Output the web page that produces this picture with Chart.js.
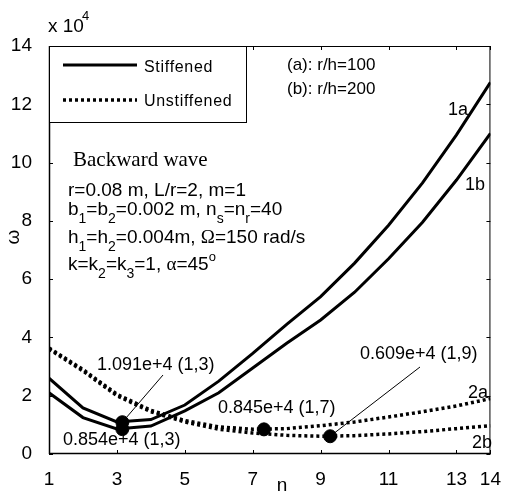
<!DOCTYPE html>
<html><head><meta charset="utf-8">
<script src="https://cdn.jsdelivr.net/npm/chart.js@4/dist/chart.umd.min.js"></script>
<style>html,body{margin:0;padding:0;background:#fff;} #wrap{width:507px;height:495px;position:relative;}</style>
</head><body><div id="wrap"><canvas id="c" width="507" height="495"></canvas></div>
<script>
const nValues = [1,2,3,4,5,6,7,8,9,10,11,12,13,14];
const stiff100 = [2.6,1.58,1.1,1.18,1.68,2.5,3.45,4.45,5.4,6.55,7.85,9.3,10.95,12.75];
const stiff200 = [2.1,1.25,0.86,0.96,1.48,2.1,2.95,3.8,4.6,5.55,6.7,7.95,9.4,11.0];
const unst100 = [3.64,2.9,2.05,1.5,1.15,0.93,0.85,0.87,0.97,1.1,1.27,1.45,1.65,1.9];
const unst200 = [3.6,2.85,2.0,1.45,1.1,0.85,0.72,0.64,0.61,0.63,0.69,0.77,0.87,0.97];
const minN = [3.16,3.16,7.33,9.28];
const minW = [1.091,0.854,0.845,0.609];
const minLabels = ['1.091e+4 (1,3)','0.854e+4 (1,3)','0.845e+4 (1,7)','0.609e+4 (1,9)'];
const curveLabels = ['1a','1b','2a','2b'];
const xTicks = [1,3,5,7,9,11,13,14];
const yTicks = [0,2,4,6,8,10,12,14];

const SANS = '"Liberation Sans", Arial, sans-serif';
const SERIF = '"Liberation Serif", "Times New Roman", serif';

function pts(ys){ return nValues.map((n,i)=>({x:n,y:ys[i]})); }

function richText(ctx, x, y, segs, size){
  let cx = x;
  for (const s of segs){
    let fs = size, dy = 0, fam = SANS;
    if (s.sub){ fs = 14; dy = 8; }
    if (s.sup){ fs = 13; dy = -9; }
    if (s.serif) fam = SERIF;
    ctx.font = fs + 'px ' + fam;
    ctx.fillText(s.t, cx, y + dy);
    cx += ctx.measureText(s.t).width;
  }
}

const decor = {
  id: 'decor',
  afterDraw(chart){
    const ctx = chart.ctx, a = chart.chartArea;
    const xs = chart.scales.x, ys = chart.scales.y;
    ctx.save();
    ctx.strokeStyle = '#000'; ctx.fillStyle = '#000';
    // box
    ctx.lineWidth = 1;
    ctx.strokeRect(a.left+0.5, a.top+0.5, a.right-a.left-1, a.bottom-a.top-1);
    ctx.lineWidth = 1.5;
    ctx.beginPath(); ctx.moveTo(a.left, a.bottom-0.5); ctx.lineTo(a.right, a.bottom-0.5); ctx.stroke();
    ctx.beginPath(); ctx.moveTo(a.left+0.5, a.top); ctx.lineTo(a.left+0.5, a.bottom); ctx.stroke();
    // inward ticks
    ctx.lineWidth = 1;
    const tl = 4;
    ctx.beginPath();
    for (const v of xTicks){
      const px = Math.round(xs.getPixelForValue(v))+0.5;
      ctx.moveTo(px, a.bottom); ctx.lineTo(px, a.bottom-tl);
      ctx.moveTo(px, a.top); ctx.lineTo(px, a.top+tl);
    }
    for (const v of yTicks){
      const py = Math.round(ys.getPixelForValue(v))+0.5;
      ctx.moveTo(a.left, py); ctx.lineTo(a.left+tl, py);
      ctx.moveTo(a.right, py); ctx.lineTo(a.right-tl, py);
    }
    ctx.stroke();
    // exponent
    ctx.textBaseline = 'alphabetic'; ctx.textAlign = 'left';
    ctx.font = '19px ' + SANS; ctx.fillText('x 10', 48, 32);
    ctx.font = '13px ' + SANS; ctx.fillText('4', 82, 20);
    // axis titles
    ctx.font = '19px ' + SANS;
    ctx.textAlign = 'center';
    ctx.fillText('n', 282, 491);
    ctx.save(); ctx.translate(14, 237); ctx.rotate(-Math.PI/2); ctx.textBaseline='middle'; ctx.fillText('\u03c9', 0, 0); ctx.restore();
    ctx.textAlign = 'left';
    // legend
    ctx.fillStyle = '#fff';
    ctx.fillRect(a.left+1, a.top+1, 196, 75);
    ctx.fillStyle = '#000';
    ctx.lineWidth = 1;
    ctx.strokeRect(a.left+0.5, a.top+0.5, 197, 76);
    ctx.lineWidth = 3;
    ctx.beginPath(); ctx.moveTo(63, 65); ctx.lineTo(137, 65); ctx.stroke();
    ctx.lineWidth = 3.5;
    ctx.setLineDash([3,3]);
    ctx.beginPath(); ctx.moveTo(63, 100); ctx.lineTo(137, 100); ctx.stroke();
    ctx.setLineDash([]);
    ctx.font = '16px ' + SANS;
    ctx.letterSpacing = '0.7px';
    ctx.fillText('Stiffened', 144, 72);
    ctx.fillText('Unstiffened', 144, 106);
    ctx.letterSpacing = '0px';
    // (a)/(b)
    ctx.font = '17px ' + SANS;
    ctx.fillText('(a): r/h=100', 287, 70);
    ctx.fillText('(b): r/h=200', 287, 94);
    // parameters block
    ctx.font = '21px ' + SERIF;
    ctx.fillText('Backward wave', 73, 166);
    richText(ctx, 68, 196, [{t:'r=0.08 m, L/r=2, m=1'}], 19);
    richText(ctx, 68, 215, [{t:'b'},{t:'1',sub:1},{t:'=b'},{t:'2',sub:1},{t:'=0.002 m, n'},{t:'s',sub:1},{t:'=n'},{t:'r',sub:1},{t:'=40'}], 19);
    richText(ctx, 68, 243, [{t:'h'},{t:'1',sub:1},{t:'=h'},{t:'2',sub:1},{t:'=0.004m, '},{t:'\u03a9',serif:1},{t:'=150 rad/s'}], 19);
    richText(ctx, 68, 270, [{t:'k=k'},{t:'2',sub:1},{t:'=k'},{t:'3',sub:1},{t:'=1, '},{t:'\u03b1',serif:1},{t:'=45'},{t:'o',sup:1}], 19);
    // curve labels
    ctx.font = '18px ' + SANS;
    ctx.fillText(curveLabels[0], 448, 115);
    ctx.fillText(curveLabels[1], 465, 190);
    ctx.fillText(curveLabels[2], 468, 398);
    ctx.fillText(curveLabels[3], 472, 448);
    // minima annotations
    ctx.fillText(minLabels[0], 97, 370);
    ctx.fillText(minLabels[1], 63, 445);
    ctx.fillText(minLabels[2], 218, 413);
    ctx.fillText(minLabels[3], 360, 359);
    ctx.lineWidth = 1;
    ctx.beginPath();
    ctx.moveTo(163, 375); ctx.lineTo(xs.getPixelForValue(minN[0]), ys.getPixelForValue(minW[0]));
    ctx.moveTo(420, 367); ctx.lineTo(xs.getPixelForValue(minN[3]), ys.getPixelForValue(minW[3]));
    ctx.stroke();
    ctx.restore();
  }
};

const lineDs = (label, ys, dashed) => ({
  type:'line', label, data: pts(ys), borderColor:'#000', backgroundColor:'#000',
  borderWidth: dashed ? 3.5 : 3, borderDash: dashed ? [3,3] : [], pointRadius:0, tension:0, fill:false,
  borderCapStyle:'butt', borderJoinStyle:'miter'
});

new Chart(document.getElementById('c'), {
  type:'scatter',
  data:{ datasets:[
    {type:'scatter', label:'minima', data: minN.map((n,i)=>({x:n,y:minW[i]})), pointRadius:6.5, pointBackgroundColor:'#000', pointBorderColor:'#000', order:0},
    Object.assign(lineDs('1a', stiff100, false), {order:1}),
    Object.assign(lineDs('1b', stiff200, false), {order:1}),
    Object.assign(lineDs('2a', unst100, true), {order:1}),
    Object.assign(lineDs('2b', unst200, true), {order:1})
  ]},
  options:{
    responsive:false, animation:false, devicePixelRatio:1,
    layout:{padding:{top:46, right:12, left:0, bottom:0}},
    plugins:{legend:{display:false}, tooltip:{enabled:false}},
    scales:{
      x:{ type:'linear', min:1, max:14,
        afterBuildTicks: s => { s.ticks = xTicks.map(v=>({value:v})); },
        afterFit: s => { s.height = 41; },
        grid:{display:false}, border:{display:false},
        ticks:{autoSkip:false, maxRotation:0, color:'#000', padding:6, font:{family:SANS, size:19}}
      },
      y:{ type:'linear', min:0, max:14,
        afterBuildTicks: s => { s.ticks = yTicks.map(v=>({value:v})); },
        afterFit: s => { s.width = 49; },
        grid:{display:false}, border:{display:false},
        ticks:{color:'#000', padding:9, font:{family:SANS, size:19}}
      }
    }
  },
  plugins:[decor]
});
</script>
</body></html>
